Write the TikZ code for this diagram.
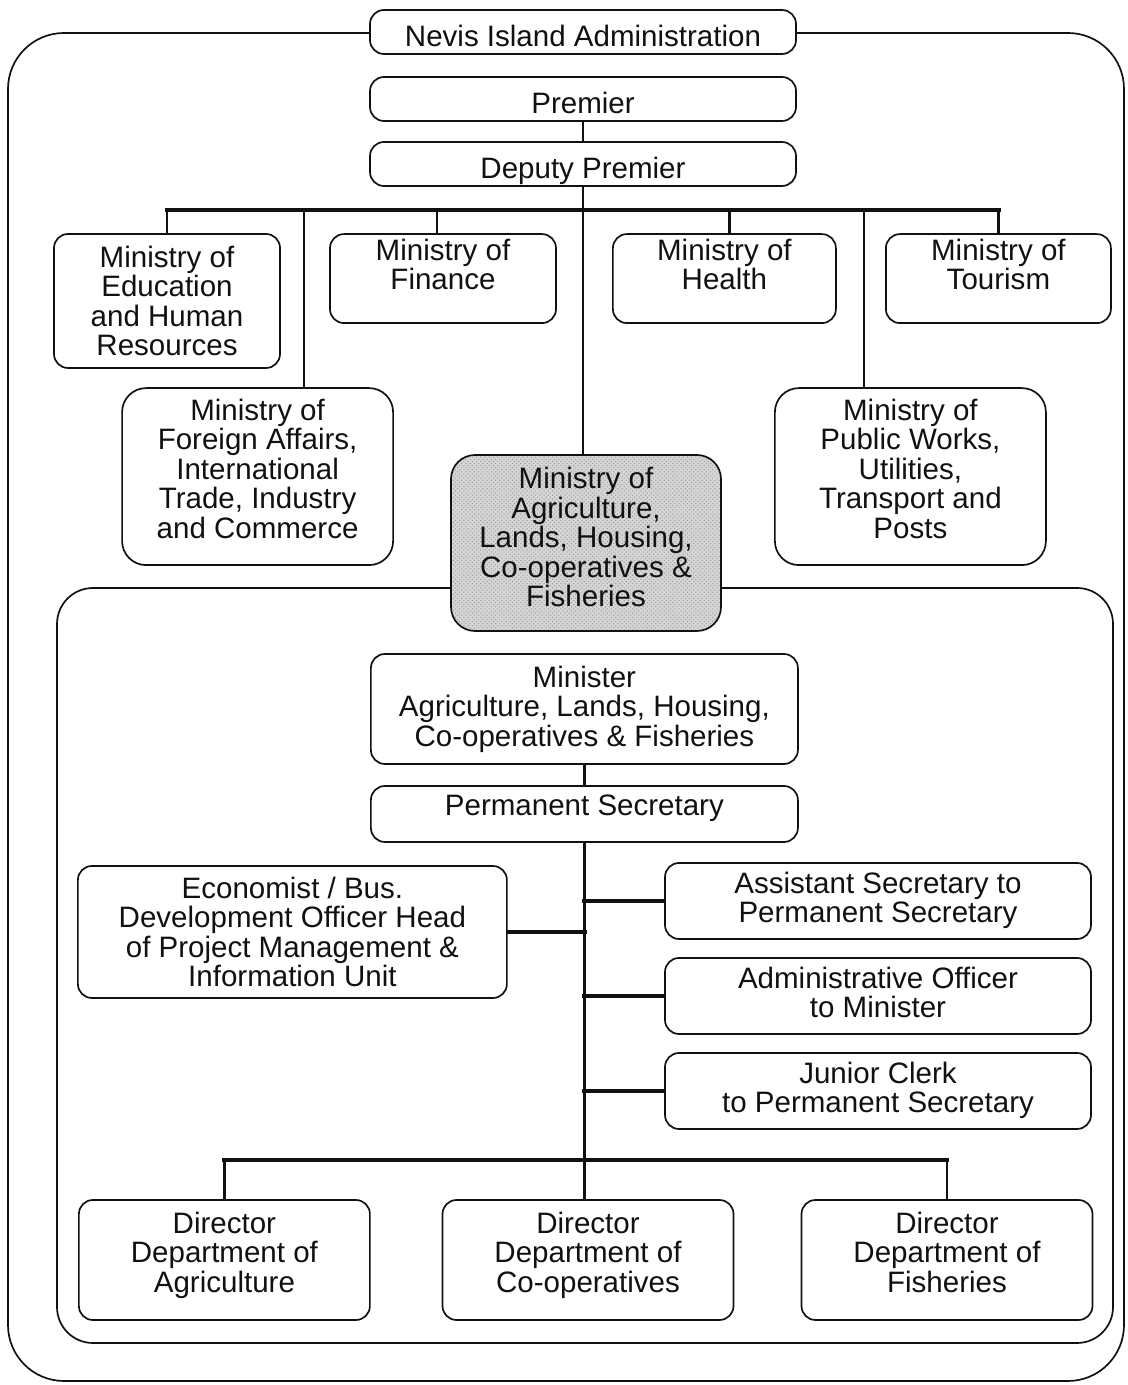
\documentclass[tikz,border=0pt]{standalone}
\usepackage{fontspec}
\setsansfont{Liberation Sans}
\usetikzlibrary{patterns}
\definecolor{ink}{HTML}{111111}
\definecolor{shade}{HTML}{D6D6D6}
\tikzset{
  font=\sffamily\fontsize{21}{20.9}\selectfont,
  unit/.style={rectangle, rounded corners=0.35cm, draw=ink, line width=1.2pt,
               fill=white, text=ink, align=center, inner sep=2pt},
  ministry/.style={unit, rounded corners=0.6cm},
  focus/.style={ministry, preaction={fill=shade}, pattern=crosshatch dots,
                pattern color=black!40},
  topbox/.style={unit, minimum width=10.65cm, minimum height=1.1cm, inner ysep=0pt,
                 text height=0.9cm, text depth=0.15cm},
  link/.style={draw=ink, line width=2pt},
  bus/.style={draw=ink, line width=3pt, line cap=rect},
  frame/.style={draw=ink, line width=1.2pt},
}

\begin{document}
\begin{tikzpicture}
\useasboundingbox (0,0) rectangle (28.2,34.625);

% --- frames ---
\draw[frame, rounded corners=1.4cm] (0.2,0.1) rectangle (28.1,33.8);
\draw[frame, rounded corners=0.9cm] (1.425,1.05) rectangle (27.825,19.925);

% --- top of the administration ---
\node[topbox] (nia) at (14.575,33.825) {Nevis Island Administration};
\node[topbox] (premier) at (14.575,32.15) {Premier};
\node[topbox] (deputy) at (14.575,30.525) {Deputy Premier};

% --- ministries ---
\node[unit, minimum width=5.65cm, minimum height=3.35cm] (edu) at (4.175,27.1) {Ministry of\\ Education\\ and Human\\ Resources};
\node[unit, minimum width=5.65cm, minimum height=2.225cm, text depth=0.7cm] (fin) at (11.075,27.66) {Ministry of\\ Finance};
\node[unit, minimum width=5.575cm, minimum height=2.225cm, text depth=0.7cm] (health) at (18.11,27.66) {Ministry of\\ Health};
\node[unit, minimum width=5.625cm, minimum height=2.225cm, text depth=0.7cm] (tour) at (24.96,27.66) {Ministry of\\ Tourism};
\node[ministry, minimum width=6.775cm, minimum height=4.425cm, text depth=0.4cm] (foreign) at (6.44,22.71) {Ministry of\\ Foreign Affairs,\\ International\\ Trade, Industry\\ and Commerce};
\node[ministry, minimum width=6.775cm, minimum height=4.425cm, text depth=0.4cm] (works) at (22.76,22.71) {Ministry of\\ Public Works,\\ Utilities,\\ Transport and\\ Posts};
\node[focus, minimum width=6.75cm, minimum height=4.4cm, text depth=0.3cm] (agri) at (14.65,21.05) {Ministry of\\ Agriculture,\\ Lands, Housing,\\ Co-operatives \&\\ Fisheries};

% --- inside the ministry ---
\node[unit, minimum width=10.675cm, minimum height=2.75cm] (minister) at (14.61,16.9) {Minister\\ Agriculture, Lands, Housing,\\ Co-operatives \& Fisheries};
\node[unit, minimum width=10.675cm, minimum height=1.4cm, text depth=0.45cm] (permsec) at (14.61,14.275) {Permanent Secretary};
\node[unit, minimum width=10.725cm, minimum height=3.3cm] (econ) at (7.31,11.325) {Economist / Bus.\\ Development Officer Head\\ of Project Management \&\\ Information Unit};
\node[unit, minimum width=10.65cm, minimum height=1.9cm, text depth=0.2cm] (asst) at (21.95,12.1) {Assistant Secretary to\\ Permanent Secretary};
\node[unit, minimum width=10.65cm, minimum height=1.9cm, text depth=0.2cm] (admin) at (21.95,9.725) {Administrative Officer\\ to Minister};
\node[unit, minimum width=10.65cm, minimum height=1.9cm, text depth=0.2cm] (clerk) at (21.95,7.35) {Junior Clerk\\ to Permanent Secretary};
\node[unit, minimum width=7.275cm, minimum height=3.0cm, text depth=0.4cm] (dagri) at (5.61,3.125) {Director\\ Department of\\ Agriculture};
\node[unit, minimum width=7.275cm, minimum height=3.0cm, text depth=0.4cm] (dcoop) at (14.7,3.125) {Director\\ Department of\\ Co-operatives};
\node[unit, minimum width=7.275cm, minimum height=3.0cm, text depth=0.4cm] (dfish) at (23.675,3.125) {Director\\ Department of\\ Fisheries};

% --- upper tree ---
\coordinate (bus) at (14.575,29.375);
\draw[link] (premier) -- (deputy);
\draw[bus] (edu.north |- bus) -- (tour.north |- bus);
\draw[link] (deputy.south) -- (deputy.south |- agri.north);
\draw[link] (edu.north) -- (edu.north |- bus);
\draw[link] ([xshift=1.16cm]foreign.north) -- ([xshift=1.16cm]foreign.north |- bus);
\draw[link] ([xshift=-0.15cm]fin.north) -- ([xshift=-0.15cm]fin.north |- bus);
\draw[link] ([xshift=0.12cm]health.north) -- ([xshift=0.12cm]health.north |- bus);
\draw[link] ([xshift=-1.16cm]works.north) -- ([xshift=-1.16cm]works.north |- bus);
\draw[link] (tour.north) -- (tour.north |- bus);

% --- lower tree ---
\coordinate (hub) at (14.65,5.625);
\draw[link] (minister) -- (permsec);
\draw[link] (permsec.south) -- (permsec.south |- dcoop.north);
\draw[bus] (econ.east) -- (econ.east -| permsec.south);
\draw[bus] (asst.west) -- (asst.west -| permsec.south);
\draw[bus] (admin.west) -- (admin.west -| permsec.south);
\draw[bus] (clerk.west) -- (clerk.west -| permsec.south);
\draw[bus] (dagri.north |- hub) -- (dfish.north |- hub);
\draw[link] (dagri.north) -- (dagri.north |- hub);
\draw[link] (dfish.north) -- (dfish.north |- hub);

\end{tikzpicture}
\end{document}
